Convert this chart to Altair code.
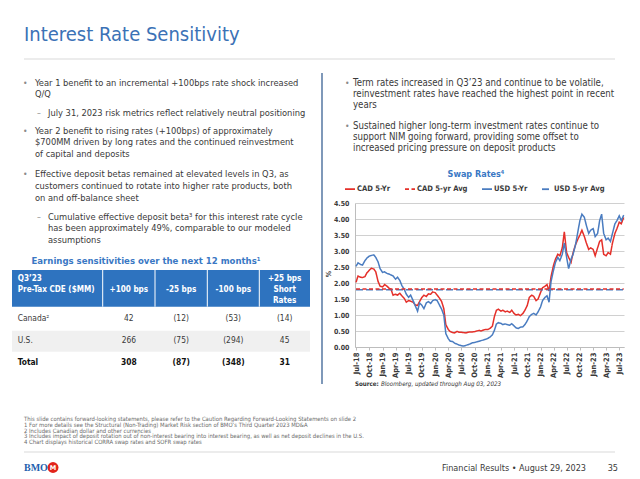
import altair as alt
import pandas as pd

FONT = "'Liberation Sans Narrow', 'DejaVu Sans Condensed', 'Roboto Condensed', 'Arial Narrow', sans-serif"

# ---------------- data ----------------
series_names = ["CAD 5-Yr", "CAD 5-yr Avg", "USD 5-Yr", "USD 5-yr Avg"]

# semi-monthly readings (1st and 15th), Jul-2018 .. Aug-2023
usd_5yr = [
    2.52, 2.63, 2.58, 2.56, 2.70, 2.78, 2.84, 2.86, 2.88, 2.80, 2.66, 2.45,
    2.33, 2.35, 2.30, 2.28, 2.25, 2.22, 2.12, 2.18, 2.08, 1.92, 1.80, 1.65,
    1.55, 1.62, 1.45, 1.30, 1.12, 1.38, 1.30, 1.20, 1.38, 1.42, 1.36, 1.45,
    1.48, 1.45, 1.30, 1.18, 1.00, 0.42, 0.26, 0.18, 0.17, 0.12, 0.09, 0.06,
    0.04, 0.03, 0.05, 0.07, 0.10, 0.13, 0.14, 0.16, 0.18, 0.20, 0.22, 0.24,
    0.27, 0.31, 0.38, 0.52, 0.72, 0.76, 0.74, 0.70, 0.72, 0.70, 0.68, 0.73,
    0.66, 0.60, 0.58, 0.62, 0.63, 0.70, 0.82, 0.95, 1.02, 1.05, 1.00, 1.10,
    1.25, 1.45, 1.55, 1.60, 1.40, 2.05, 2.40, 2.65, 2.80, 2.70, 2.90, 3.25,
    2.80, 2.45, 2.75, 2.90, 3.20, 3.55, 3.95, 4.15, 4.05, 3.80, 3.55, 3.65,
    3.70, 3.45, 3.55, 3.95, 4.15, 3.55, 3.35, 3.40, 3.30, 3.55, 3.85, 3.95,
    4.10, 3.95, 4.12,
]
cad_5yr = [
    2.02, 2.22, 2.18, 2.17, 2.20, 2.32, 2.40, 2.46, 2.44, 2.35, 2.05, 1.90,
    1.88, 1.95, 1.90, 1.84, 1.80, 1.62, 1.65, 1.62, 1.68, 1.60, 1.52, 1.40,
    1.45, 1.43, 1.40, 1.32, 1.30, 1.42, 1.55, 1.62, 1.58, 1.66, 1.65, 1.72,
    1.70, 1.62, 1.52, 1.42, 1.20, 0.70, 0.55, 0.48, 0.45, 0.44, 0.49, 0.46,
    0.46, 0.45, 0.44, 0.46, 0.47, 0.47, 0.48, 0.50, 0.52, 0.50, 0.53, 0.55,
    0.55, 0.58, 0.65, 0.95, 1.15, 1.18, 1.12, 1.15, 1.10, 1.12, 1.08, 1.15,
    1.05, 1.00, 1.02, 0.98, 1.05, 1.15, 1.30, 1.55, 1.62, 1.58, 1.45, 1.50,
    1.70, 1.85, 1.90, 1.95, 1.75, 2.20, 2.55, 2.75, 2.90, 2.85, 3.10, 3.60,
    2.95, 2.80, 2.65, 2.95, 3.20, 3.35, 3.50, 3.65, 3.45, 3.25, 3.05, 3.10,
    3.05, 2.85, 3.10, 3.30, 3.35, 2.90, 2.85, 2.95, 2.90, 3.25, 3.55, 3.70,
    3.90, 3.85, 4.05,
]
cad_5yr_avg = 1.81
usd_5yr_avg = 1.79

y_ticks = [0.0, 0.5, 1.0, 1.5, 2.0, 2.5, 3.0, 3.5, 4.0, 4.5]

# text content
title_text = "Interest Rate Sensitivity"
left_points = [
    ("•", 0, ["Year 1 benefit to an incremental +100bps rate shock increased", "Q/Q"]),
    ("–", 1, ["July 31, 2023 risk metrics reflect relatively neutral positioning"]),
    ("•", 0, ["Year 2 benefit to rising rates (+100bps) of approximately",
              "$700MM driven by long rates and the continued reinvestment",
              "of capital and deposits"]),
    ("•", 0, ["Effective deposit betas remained at elevated levels in Q3, as",
              "customers continued to rotate into higher rate products, both",
              "on and off-balance sheet"]),
    ("–", 1, ["Cumulative effective deposit beta³ for this interest rate cycle",
              "has been approximately 49%, comparable to our modeled",
              "assumptions"]),
]
right_points = [
    ["Term rates increased in Q3’23 and continue to be volatile,",
     "reinvestment rates have reached the highest point in recent",
     "years"],
    ["Sustained higher long-term investment rates continue to",
     "support NIM going forward, providing some offset to",
     "increased pricing pressure on deposit products"],
]
table_title = "Earnings sensitivities over the next 12 months¹"
header_first = ["Q3’23", "Pre-Tax CDE ($MM)"]
header_cols = [["+100 bps"], ["-25 bps"], ["-100 bps"], ["+25 bps", "Short", "Rates"]]
row_names = ["Canada²", "U.S.", "Total"]
row_canada = ["42", "(12)", "(53)", "(14)"]
row_us = ["266", "(75)", "(294)", "45"]
row_total = ["308", "(87)", "(348)", "31"]
chart_title = "Swap Rates⁴"
source_bold = "Source:"
source_rest = "Bloomberg, updated through Aug 03, 2023"
footnotes = [
    "This slide contains forward-looking statements, please refer to the Caution Regarding Forward-Looking Statements on slide 2",
    "1  For more details see the Structural (Non-Trading) Market Risk section of BMO’s Third Quarter 2023 MD&A",
    "2  Includes Canadian dollar and other currencies",
    "3  Includes impact of deposit rotation out of non-interest bearing into interest bearing, as well as net deposit declines in the U.S.",
    "4  Chart displays historical CORRA swap rates and SOFR swap rates",
]
footer_right = "Financial Results • August 29, 2023"
page_no = "35"

# ---------------- build table ----------------
dates = pd.date_range("2018-07-01", "2023-08-01", freq="SMS")
rows = []
for d, v in zip(dates, cad_5yr):
    rows.append({"date": d, "value": v, "series": "CAD 5-Yr", "ord": 0})
for d, v in zip(dates, usd_5yr):
    rows.append({"date": d, "value": v, "series": "USD 5-Yr", "ord": 1})
for d in (dates[0], dates[-1]):
    rows.append({"date": d, "value": usd_5yr_avg, "series": "USD 5-yr Avg", "ord": 2})
for d in (dates[0], dates[-1]):
    rows.append({"date": d, "value": cad_5yr_avg, "series": "CAD 5-yr Avg", "ord": 3})
df = pd.DataFrame(rows)

RED = "#e5302a"
BLUE = "#4a7cc0"
TXT = "#3a3a3a"
TBLUE = "#3b72b6"

OX, OY = 355, 203
PW, PH = 269, 144

quarter_ticks = []
for yr in range(2018, 2024):
    for mo in (1, 4, 7, 10):
        if (yr == 2018 and mo < 7) or (yr == 2023 and mo > 7):
            continue
        quarter_ticks.append(alt.DateTime(year=yr, month=mo, date=1))

leg = alt.Legend(
    title=None, orient="none", legendX=-11, legendY=-20, direction="horizontal",
    symbolType="stroke", symbolSize=100, symbolStrokeWidth=1.8,
    labelFont=FONT, labelFontSize=7.6, labelFontWeight="bold", labelColor=TXT,
    labelOffset=1, columnPadding=10, symbolOffset=0,
)

lines = alt.Chart(df).mark_line(strokeWidth=1.5).encode(
    x=alt.X("date:T", title=None,
            scale=alt.Scale(domain=[alt.DateTime(year=2018, month=6, date=24),
                                    alt.DateTime(year=2023, month=8, date=3)]),
            axis=alt.Axis(values=quarter_ticks, format="%b-%y", labelAngle=-90,
                          labelFont=FONT, labelFontSize=7.5, labelFontWeight="bold",
                          labelColor=TXT, grid=False, domainColor="#bdbdbd",
                          tickColor="#bdbdbd", tickSize=3, labelPadding=2)),
    y=alt.Y("value:Q", title=None, scale=alt.Scale(domain=[0, 4.5], nice=False),
            axis=alt.Axis(values=y_ticks, format=".2f", labelFont=FONT, labelFontSize=7,
                          labelFontWeight="bold", labelColor=TXT, grid=True,
                          gridColor="#d0d0d0", domainColor="#bdbdbd", ticks=False,
                          labelPadding=6)),
    color=alt.Color("series:N", scale=alt.Scale(domain=series_names, range=[RED, RED, BLUE, BLUE]), legend=leg),
    strokeDash=alt.StrokeDash("series:N", scale=alt.Scale(domain=series_names,
                              range=[[1, 0], [4, 2.5], [1, 0], [7, 3]]), legend=leg),
    order=alt.Order("ord:Q"),
)

one = alt.Data(values=[{"k": 0}])
bg = []
fg = []


def text(s, x, y, size, color=TXT, weight="normal", align="left", style="normal", font=FONT, angle=None):
    kw = dict(align=align, baseline="middle", fontSize=size, font=font,
              fontWeight=weight, fontStyle=style, color=color)
    if angle is not None:
        kw["angle"] = angle
    fg.append(alt.Chart(one).mark_text(**kw).encode(
        x=alt.value(x - OX), y=alt.value(y - OY), text=alt.value(s)))


def rule(x1, y1, x2, y2, color, w):
    bg.append(alt.Chart(one).mark_rule(color=color, strokeWidth=w).encode(
        x=alt.value(x1 - OX), y=alt.value(y1 - OY), x2=alt.value(x2 - OX), y2=alt.value(y2 - OY)))


def rect(x1, y1, x2, y2, color):
    bg.append(alt.Chart(one).mark_rect(color=color).encode(
        x=alt.value(x1 - OX), y=alt.value(y1 - OY), x2=alt.value(x2 - OX), y2=alt.value(y2 - OY)))


# title & separators
text(title_text, 24, 35, 20, color=TBLUE)
rule(24, 59, 615, 59, "#d9d9d9", 1)
rule(322, 73, 322, 384, "#5f7fa8", 1.6)
rule(24, 452, 615, 452, "#d9d9d9", 1)

# left bullets
LH = 11.65
starts = [82.7, 112.7, 130.7, 174.3, 216.7]
for (mark, lvl, ls), y0 in zip(left_points, starts):
    xm = 23 if lvl == 0 else 37
    xt = 35 if lvl == 0 else 48
    text(mark, xm, y0, 8.5, color="#8a8a8a")
    for i, s in enumerate(ls):
        text(s, xt, y0 + i * LH, 9.25)

# right bullets
RLH = 11.0
for ls, y0 in zip(right_points, [83.3, 126.0]):
    text("•", 345, y0, 8.5, color="#8a8a8a")
    for i, s in enumerate(ls):
        text(s, 353, y0 + i * RLH, 9.6)

# table
text(table_title, 146, 260.5, 9.5, color="#3a78c4", weight="bold", align="center")
col_edges = [12, 102.7, 155, 207.3, 259.3, 310]
rect(12, 270, 310, 306.7, "#2e73bf")
rect(12, 330.7, 310, 351.7, "#f0f0f0")
for e in col_edges[1:-1]:
    rule(e, 270, e, 306.7, "#ffffff", 1)
text(header_first[0], 17.7, 279.3, 8.1, color="white", weight="bold")
text(header_first[1], 17.7, 290.3, 8.1, color="white", weight="bold")
for c, hl in enumerate(header_cols):
    cx = (col_edges[c + 1] + col_edges[c + 2]) / 2
    if len(hl) == 1:
        text(hl[0], cx, 290, 8.1, color="white", weight="bold", align="center")
    else:
        for i, s in enumerate(hl):
            text(s, cx, 279 + i * 10.8, 8.1, color="white", weight="bold", align="center")
row_y = [318.3, 339.6, 361.7]
for r, (name, vals) in enumerate(zip(row_names, [row_canada, row_us, row_total])):
    w = "bold" if r == 2 else "normal"
    col = "#111111" if r == 2 else TXT
    text(name, 17.7, row_y[r], 8.4, weight=w, color=col)
    for c, v in enumerate(vals):
        cx = (col_edges[c + 1] + col_edges[c + 2]) / 2
        text(v, cx, row_y[r], 8.4, weight=w, align="center", color=col)

# chart texts
text(chart_title, 476, 173.5, 9, color="#3a78c4", weight="bold", align="center")
text("%", 329, 274, 7, weight="bold", angle=270, align="center")
text(source_bold, 355, 383.5, 6.2, weight="bold", color="#333333")
text(source_rest, 381, 383.5, 6.2, style="italic", color="#333333")

# footnotes
for i, s in enumerate(footnotes):
    text(s, 24, 419 + i * 5.8, 5.9, color="#6a6a6a")

# footer
text("BMO", 24, 468, 10, color="#1f5fae", weight="bold", font="'Liberation Serif', serif")
bg.append(alt.Chart(one).mark_circle(color="#e2231a", opacity=1, size=120).encode(
    x=alt.value(53 - OX), y=alt.value(467.5 - OY)))
text("M", 53, 467.8, 6.5, color="white", weight="bold", align="center", font="'DejaVu Sans', sans-serif")
text(footer_right, 586, 468, 9, align="right")
text(page_no, 618, 468, 9, align="right")

chart = alt.layer(*bg, lines, *fg).properties(
    width=PW, height=PH,
    padding={"left": OX, "top": OY, "right": 640 - OX - PW, "bottom": 479 - OY - PH},
    autosize=alt.AutoSizeParams(type="none"),
    background="white",
).configure_view(stroke=None)

chart.save("out.html", embed_options={"renderer": "svg", "actions": False})
